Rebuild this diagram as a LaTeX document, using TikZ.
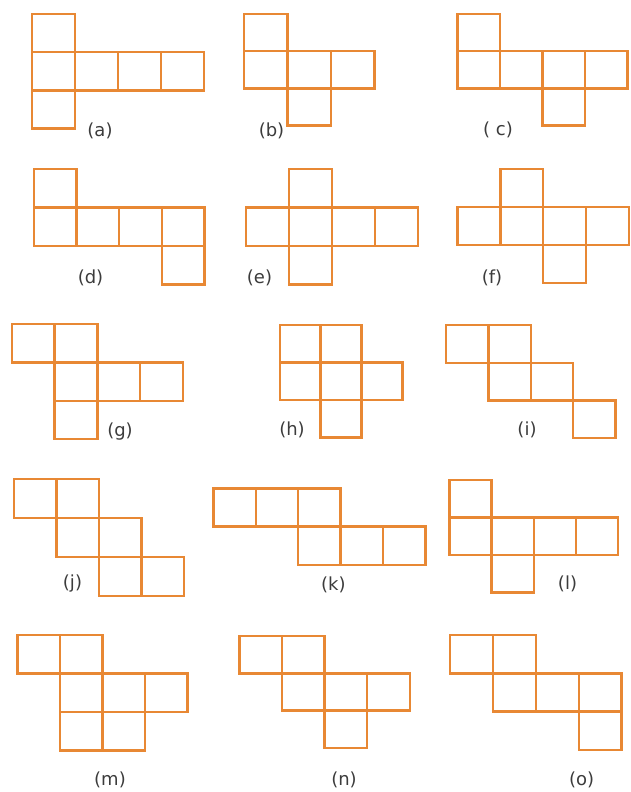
\documentclass[tikz,border=0pt]{standalone}
\usepackage{fontspec}
\setsansfont{DejaVu Sans}
\usepackage{tikz}
\definecolor{netorange}{RGB}{232,136,52}
\definecolor{labelgray}{RGB}{60,60,60}

\begin{document}
\begin{tikzpicture}[
  x=1pt, y=-1pt,
  cell/.style={draw=netorange, line width=2.4pt},
  lbl/.style={text=labelgray, font=\sffamily\fontsize{18}{20}\selectfont, inner sep=0pt}
]
  \useasboundingbox (0,0) rectangle (631,792);
  % (a)
  \foreach \c/\r in {0/0,0/1,1/1,2/1,3/1,0/2}
    \draw[cell] (31.7+\c*43, 14.3+\r*38) rectangle ++(43,38);
  \node[lbl] (la) at (100,131) {(a)};
  % (b)
  \foreach \c/\r in {0/0,0/1,1/1,2/1,1/2}
    \draw[cell] (244+\c*43.5, 14.3+\r*37) rectangle ++(43.5,37);
  \node[lbl] (lb) at (271.5,131) {(b)};
  % (c)
  \foreach \c/\r in {0/0,0/1,1/1,2/1,3/1,2/2}
    \draw[cell] (457.3+\c*42.5, 14.3+\r*37) rectangle ++(42.5,37);
  \node[lbl] (lc) at (498,130) {( c)};
  % (d)
  \foreach \c/\r in {0/0,0/1,1/1,2/1,3/1,3/2}
    \draw[cell] (34+\c*42.6, 169+\r*38.5) rectangle ++(42.6,38.5);
  \node[lbl] (ld) at (90.5,278) {(d)};
  % (e)
  \foreach \c/\r in {1/0,0/1,1/1,2/1,3/1,1/2}
    \draw[cell] (246+\c*43, 169+\r*38.5) rectangle ++(43,38.5);
  \node[lbl] (le) at (259.5,278) {(e)};
  % (f)
  \foreach \c/\r in {1/0,0/1,1/1,2/1,3/1,2/2}
    \draw[cell] (457.5+\c*42.8, 169+\r*38) rectangle ++(42.8,38);
  \node[lbl] (lf) at (492,278) {(f)};
  % (g)
  \foreach \c/\r in {0/0,1/0,1/1,2/1,3/1,1/2}
    \draw[cell] (11.7+\c*42.8, 324+\r*38.4) rectangle ++(42.8,38.4);
  \node[lbl] (lg) at (120,431.5) {(g)};
  % (h)
  \foreach \c/\r in {0/0,1/0,0/1,1/1,2/1,1/2}
    \draw[cell] (279.7+\c*40.9, 325+\r*37.5) rectangle ++(40.9,37.5);
  \node[lbl] (lh) at (292,430) {(h)};
  % (i)
  \foreach \c/\r in {0/0,1/0,1/1,2/1,3/2}
    \draw[cell] (446+\c*42.4, 325+\r*37.7) rectangle ++(42.4,37.7);
  \node[lbl] (li) at (527,430) {(i)};
  % (j)
  \foreach \c/\r in {0/0,1/0,1/1,2/1,2/2,3/2}
    \draw[cell] (14+\c*42.5, 479+\r*39) rectangle ++(42.5,39);
  \node[lbl] (lj) at (72.5,583.5) {(j)};
  % (k)
  \foreach \c/\r in {0/0,1/0,2/0,2/1,3/1,4/1}
    \draw[cell] (213.3+\c*42.4, 488.3+\r*38.3) rectangle ++(42.4,38.3);
  \node[lbl] (lk) at (333.3,585) {(k)};
  % (l)
  \foreach \c/\r in {0/0,0/1,1/1,2/1,3/1,1/2}
    \draw[cell] (449.5+\c*42.1, 480+\r*37.5) rectangle ++(42.1,37.5);
  \node[lbl] (ll) at (567.5,583.5) {(l)};
  % (m)
  \foreach \c/\r in {0/0,1/0,1/1,2/1,3/1,1/2,2/2}
    \draw[cell] (17.3+\c*42.5, 635+\r*38.5) rectangle ++(42.5,38.5);
  \node[lbl] (lm) at (110,780) {(m)};
  % (n)
  \foreach \c/\r in {0/0,1/0,1/1,2/1,3/1,2/2}
    \draw[cell] (239.4+\c*42.6, 636+\r*37.3) rectangle ++(42.6,37.3);
  \node[lbl] (ln) at (344,780) {(n)};
  % (o)
  \foreach \c/\r in {0/0,1/0,1/1,2/1,3/1,3/2}
    \draw[cell] (450+\c*42.9, 635+\r*38.3) rectangle ++(42.9,38.3);
  \node[lbl] (lo) at (581.7,780) {(o)};
\end{tikzpicture}
\end{document}
